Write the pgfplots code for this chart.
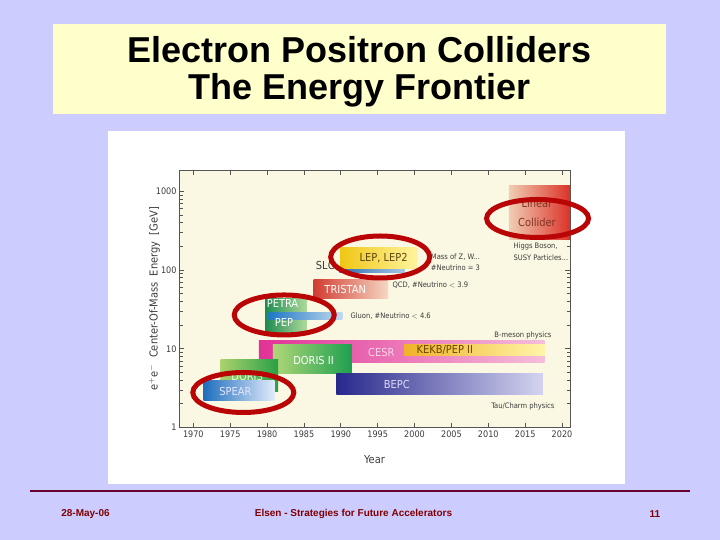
\documentclass[border=0pt]{standalone}
\usepackage{pgfplots}
\pgfplotsset{compat=1.18}
\usepackage{fontspec}
\setmainfont{Liberation Sans}
\newfontfamily\cond{DejaVu Sans Condensed}
\definecolor{slidebg}{RGB}{204,204,255}
\definecolor{titlebg}{RGB}{255,255,204}
\definecolor{cream}{RGB}{250,248,226}
\definecolor{ellred}{RGB}{185,5,5}
\definecolor{footred}{RGB}{128,0,0}
\definecolor{footline}{RGB}{102,0,51}
\definecolor{axgray}{RGB}{85,85,85}
\definecolor{txtgray}{RGB}{60,60,60}
% bar colours
\definecolor{spearA}{RGB}{30,110,190}\definecolor{spearB}{RGB}{225,235,250}
\definecolor{dorisA}{RGB}{170,210,110}\definecolor{dorisB}{RGB}{40,160,70}
\definecolor{doriiA}{RGB}{175,215,120}\definecolor{doriiB}{RGB}{30,160,80}
\definecolor{petraA}{RGB}{30,140,80}\definecolor{petraB}{RGB}{175,218,155}
\definecolor{pepA}{RGB}{30,120,195}\definecolor{pepB}{RGB}{195,218,240}
\definecolor{triA}{RGB}{210,60,50}\definecolor{triB}{RGB}{245,215,195}
\definecolor{slcA}{RGB}{40,110,180}\definecolor{slcB}{RGB}{170,200,230}
\definecolor{lepA}{RGB}{240,198,20}\definecolor{lepB}{RGB}{255,245,160}
\definecolor{cesrA}{RGB}{225,50,150}\definecolor{cesrB}{RGB}{245,190,218}
\definecolor{kekA}{RGB}{240,178,40}\definecolor{kekB}{RGB}{255,245,170}
\definecolor{bepcA}{RGB}{40,40,140}\definecolor{bepcB}{RGB}{212,212,240}
\definecolor{lcA}{RGB}{240,205,180}\definecolor{lcB}{RGB}{220,50,40}
\newcommand\lab{\cond\fontsize{11}{12}\selectfont}
\newcommand\ann{\cond\fontsize{7.5}{8.5}\selectfont}
\begin{document}
\begin{tikzpicture}[x=1pt,y=1pt]
\fill[slidebg] (0,0) rectangle (720,540);
\fill[titlebg] (53,426) rectangle (666,516);
\node[anchor=base, inner sep=0pt, font=\fontsize{36}{36}\selectfont\bfseries] at (359.5,477) {Electron Positron Colliders};
\node[anchor=base, inner sep=0pt, font=\fontsize{36}{36}\selectfont\bfseries] at (359.5,440) {The Energy Frontier};
\fill[white] (108,56) rectangle (625,409);
\begin{axis}[
  at={(179pt,112.5pt)}, anchor=south west,
  scale only axis, width=391pt, height=257.5pt,
  ymode=log,
  xmin=1968.06, xmax=2021.08, ymin=1, ymax=1870,
  clip=false,
  axis background/.style={fill=cream},
  axis line style={draw=axgray, line width=0.9pt},
  every tick/.style={axgray, line width=0.7pt},
  tick align=inside,
  major tick length=5pt, minor tick length=3.5pt,
  xtick={1970,1975,...,2020},
  ytick={1,10,100,1000},
  yticklabels={1,10,100,1000},
  minor ytick={2,3,4,5,6,7,8,9,20,30,40,50,60,70,80,90,200,300,400,500,600,700,800,900},
  /pgf/number format/1000 sep={},
  /pgf/number format/assume math mode=true,
  ticklabel style={font=\cond\fontsize{9}{10}\selectfont, text=txtgray},
  yticklabel style={xshift=1pt},
  xlabel={Year},
  ylabel={e$^{+}$e$^{-}$\ \ Center-Of-Mass\ \ Energy\ \ [GeV]},
  label style={font=\cond\fontsize{11}{12}\selectfont, text=txtgray},
  xlabel style={yshift=-11pt},
  ylabel style={yshift=-11pt},
]
% CESR
\addplot[draw=none, left color=cesrA, right color=cesrB] coordinates {(1978.9,6.6) (2017.6,6.6) (2017.6,12.6) (1978.9,12.6)} -- cycle;
% DORIS II
\addplot[draw=none, left color=doriiA, right color=doriiB] coordinates {(1980.8,4.9) (1991.5,4.9) (1991.5,11.5) (1980.8,11.5)} -- cycle;
% KEKB / PEP II
\addplot[draw=none, left color=kekA, right color=kekB] coordinates {(1998.6,8.3) (2017.7,8.3) (2017.7,11.5) (1998.6,11.5)} -- cycle;
% BEPC
\addplot[draw=none, left color=bepcA, right color=bepcB] coordinates {(1989.4,2.6) (2017.4,2.6) (2017.4,4.9) (1989.4,4.9)} -- cycle;
% DORIS
\addplot[draw=none, left color=dorisA, right color=dorisB] coordinates {(1973.7,2.9) (1981.5,2.9) (1981.5,7.4) (1973.7,7.4)} -- cycle;
% SPEAR
\addplot[draw=none, left color=spearA, middle color=spearA!85!white, right color=spearB] coordinates {(1971.4,2.2) (1981.0,2.2) (1981.0,3.9) (1971.4,3.9)} -- cycle;
% PETRA
\addplot[draw=none, left color=petraA, right color=petraB] coordinates {(1979.8,15.9) (1985.4,15.9) (1985.4,44) (1979.8,44)} -- cycle;
% PEP
\addplot[draw=none, left color=pepA, middle color=pepA!90!white, right color=pepB] coordinates {(1980.2,23.9) (1990.2,23.9) (1990.2,28.5) (1980.2,28.5)} -- cycle;
% TRISTAN
\addplot[draw=none, left color=triA, right color=triB] coordinates {(1986.3,44) (1996.4,44) (1996.4,75) (1986.3,75)} -- cycle;
% SLC
\addplot[draw=none, left color=slcA, right color=slcB] coordinates {(1989.8,92) (1998.7,92) (1998.7,106) (1989.8,106)} -- cycle;
% LEP, LEP2
\addplot[draw=none, left color=lepA, right color=lepB] coordinates {(1989.9,106) (2000.4,106) (2000.4,191) (1989.9,191)} -- cycle;
% Linear Collider
\addplot[draw=none, left color=lcA, right color=lcB] coordinates {(2012.8,248) (2021.08,248) (2021.08,1205) (2012.8,1205)} -- cycle;
% bar labels
\node[font=\lab, text=white!90!blue] at (axis cs:1975.7,2.83) {SPEAR};
\node[font=\lab, text=white!90!green] at (axis cs:1977.3,4.4) {DORIS};
\node[font=\lab, text=white] at (axis cs:1986.3,7.2) {DORIS II};
\node[font=\lab, text=white] at (axis cs:1982.1,38) {PETRA};
\node[font=\lab, text=white] at (axis cs:1982.3,21.9) {PEP};
\node[font=\lab, text=white] at (axis cs:1990.6,57.5) {TRISTAN};
\node[font=\lab, text=txtgray] at (axis cs:1987.9,116) {SLC};
\node[font=\lab, text={rgb,255:red,90;green,70;blue,20}] at (axis cs:1995.8,142) {LEP, LEP2};
\node[font=\lab, text={rgb,255:red,250;green,215;blue,232}] at (axis cs:1995.5,9.1) {CESR};
\node[font=\lab, text={rgb,255:red,105;green,70;blue,0}] at (axis cs:2004.1,9.7) {KEKB/PEP II};
\node[font=\lab, text={rgb,255:red,220;green,220;blue,248}] at (axis cs:1997.6,3.47) {BEPC};
\node[font=\lab, text={rgb,255:red,130;green,50;blue,35}] at (axis cs:2016.6,710) {Linear};
\node[font=\lab, text={rgb,255:red,130;green,50;blue,35}] at (axis cs:2016.6,408) {Collider};
% annotations
\node[font=\ann, text=txtgray, anchor=west, inner sep=0pt] at (axis cs:2013.4,202) {Higgs Boson,};
\node[font=\ann, text=txtgray, anchor=west, inner sep=0pt] at (axis cs:2013.4,142) {SUSY Particles...};
\node[font=\ann, text=txtgray, anchor=west, inner sep=0pt] at (axis cs:2002.2,147) {Mass of Z, W...};
\node[font=\ann, text=txtgray, anchor=west, inner sep=0pt] at (axis cs:2002.2,106) {\#Neutrino = 3};
\node[font=\ann, text=txtgray, anchor=west, inner sep=0pt] at (axis cs:1997.0,65) {QCD, \#Neutrino $<$ 3.9};
\node[font=\ann, text=txtgray, anchor=west, inner sep=0pt] at (axis cs:1991.3,26.1) {Gluon, \#Neutrino $<$ 4.6};
\node[font=\ann, text=txtgray, anchor=east, inner sep=0pt] at (axis cs:2018.6,15) {B-meson physics};
\node[font=\ann, text=txtgray, anchor=east, inner sep=0pt] at (axis cs:2019.0,1.85) {Tau/Charm physics};
% highlight ellipses
\draw[ellred, line width=5pt] (axis cs:1976.78,2.785) ellipse [x radius=50.5pt, y radius=20pt];
\draw[ellred, line width=5pt] (axis cs:1982.33,26.9) ellipse [x radius=50pt, y radius=20pt];
\draw[ellred, line width=5pt] (axis cs:1995.34,146.7) ellipse [x radius=49.5pt, y radius=21pt];
\draw[ellred, line width=5pt] (axis cs:2016.68,452.6) ellipse [x radius=51pt, y radius=19pt];
\end{axis}
\draw[footline, line width=1.8pt] (30,49) -- (690,49);
\node[font=\fontsize{10}{11}\selectfont\bfseries, text=footred] at (85.5,26) {28-May-06};
\node[font=\fontsize{10}{11}\selectfont\bfseries, text=footred] at (353.5,26) {Elsen - Strategies for Future Accelerators};
\node[font=\fontsize{10}{11}\selectfont\bfseries, text=footred] at (655,26) {11};
\end{tikzpicture}
\end{document}
